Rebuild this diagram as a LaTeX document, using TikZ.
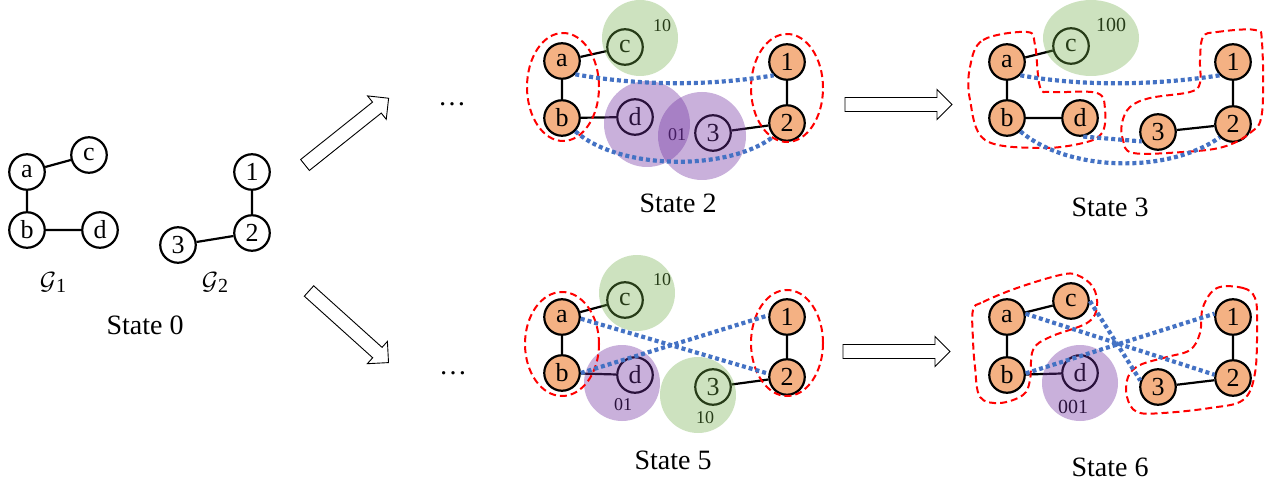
\documentclass[tikz,border=0pt]{standalone}
\usepackage{fontspec}
\setmainfont{Liberation Serif}
\definecolor{nodeorange}{HTML}{F4B183}
\definecolor{blobgreen}{HTML}{70AD47}
\definecolor{blobpurple}{HTML}{7030A0}
\definecolor{linkblue}{HTML}{4472C4}
\newcommand{\graphname}[1]{$\mathcal{G}$\raisebox{-3pt}{\fontsize{20}{20}\selectfont #1}}
\tikzset{
  vtx/.style={circle,draw,line width=2.2pt,minimum size=35.5pt,inner sep=0pt,
    font=\fontsize{26}{26}\selectfont},
  hit/.style={vtx,fill=nodeorange},
  tie/.style={line width=2.2pt},
  grp/.style={red,line width=2pt,dash pattern=on 7pt off 4pt},
  lnk/.style={linkblue,line width=4.2pt,dash pattern=on 4pt off 3pt},
  greenblob/.style={fill=blobgreen,fill opacity=0.35},
  purpleblob/.style={fill=blobpurple,fill opacity=0.38},
  codetext/.style={font=\fontsize{18}{18}\selectfont},
  bigcode/.style={font=\fontsize{20}{20}\selectfont},
  statelabel/.style={font=\fontsize{28}{28}\selectfont},
  glabel/.style={font=\fontsize{27}{27}\selectfont},
  bigarrow/.style={draw,line width=0.9pt,fill=white},
  hollow arrow/.pic={\draw[bigarrow] (0,-7) -- (92,-7) -- (92,-15) -- (107,0)
    -- (92,15) -- (92,7) -- (0,7) -- cycle;}
}
\begin{document}
\begin{tikzpicture}[x=1pt,y=-1pt]
\useasboundingbox (0,0) rectangle (1271,486);

% ---------- State 0: the two input graphs ----------
\begin{scope}[every node/.append style={minimum size=36.5pt}]
\node[vtx] (a0) at (27,172) {a};
\node[vtx] (c0) at (89,155) {c};
\node[vtx] (b0) at (27,230) {b};
\node[vtx] (d0) at (100,230) {d};
\node[vtx] (one0) at (252,172) {1};
\node[vtx] (two0) at (252,233) {2};
\node[vtx] (three0) at (178,245) {3};
\end{scope}
\draw[tie] (a0) -- (c0) (a0) -- (b0) (b0) -- (d0) (one0) -- (two0) (two0) -- (three0);
\node[glabel] (g1) at (53,282) {\graphname{1}};
\node[glabel] (g2) at (215,282) {\graphname{2}};
\node[statelabel] (s0) at (145,325) {State 0};

% ---------- transitions ----------
\pic[rotate=38.6] at (305,165) {hollow arrow};
\pic[rotate=-42] at (309,291) {hollow arrow};
\node[statelabel,anchor=base] (dots1) at (452,106) {…};
\node[statelabel,anchor=base] (dots2) at (453,374) {…};
\pic at (845,104.5) {hollow arrow};
\pic at (843,351.5) {hollow arrow};

% ---------- State 2 ----------
\node[hit] (a2) at (562,61) {a};
\node[hit] (b2) at (562,118) {b};
\node[vtx] (c2) at (625,47) {c};
\node[vtx] (d2) at (635,117) {d};
\node[vtx] (three2) at (713,133) {3};
\node[hit] (one2) at (787,62) {1};
\node[hit] (two2) at (787,123) {2};
\draw[tie] (a2) -- (c2) (a2) -- (b2) (b2) -- (d2) (one2) -- (two2) (two2) -- (three2);
\node[codetext] (k2c) at (662,26) {10};
\node[codetext] (k2d) at (677,135) {01};
\fill[greenblob] (640,38) circle [radius=38pt];
\fill[purpleblob] (647,124) circle [radius=43pt];
\fill[purpleblob] (702,136) circle [radius=44pt];
\draw[grp] (563,87) ellipse [x radius=36pt, y radius=54pt];
\draw[grp] (787,88) ellipse [x radius=36pt, y radius=54pt];
\draw[lnk] (a2.-45) .. controls (640,86) and (710,86) .. (one2.-135);
\draw[lnk] (b2.-45) .. controls (620,171) and (730,171) .. (two2.-135);
\node[statelabel] (s2) at (678,203) {State 2};

% ---------- State 3 ----------
\node[hit] (a3) at (1007,62) {a};
\node[hit] (b3) at (1007,118) {b};
\node[vtx] (c3) at (1071,46) {c};
\node[hit] (d3) at (1080,118) {d};
\node[hit] (three3) at (1158,132) {3};
\node[hit] (one3) at (1233,62) {1};
\node[hit] (two3) at (1233,124) {2};
\draw[tie] (a3) -- (c3) (a3) -- (b3) (b3) -- (d3) (one3) -- (two3) (two3) -- (three3);
\node[bigcode] (k3c) at (1111,25) {100};
\fill[greenblob] (1091,38) ellipse [x radius=48pt, y radius=38pt];
\draw[grp] plot[smooth cycle, tension=0.6] coordinates {(970,67) (983,40) (1027,32) (1035,45)
  (1040,87) (1052,92) (1097,93) (1105,110) (1102,133) (1083,143) (1040,148) (985,140) (970,100)};
\draw[grp] plot[smooth cycle, tension=0.6] coordinates {(1203,37) (1217,32) (1255,30) (1262,43)
  (1262,113) (1250,133) (1223,147) (1183,152) (1133,153) (1123,140) (1122,123) (1130,107)
  (1150,98) (1190,92) (1200,83) (1200,60)};
\draw[lnk] (a3.-45) .. controls (1080,86) and (1150,86) .. (one3.-135);
\draw[lnk] (b3.-45) .. controls (1070,173) and (1170,173) .. (two3.-135);
\draw[lnk] (d3.-80) -- (three3.-150);
\node[statelabel] (s3) at (1110,207) {State 3};

% ---------- State 5 ----------
\node[hit] (a5) at (562,317) {a};
\node[hit] (b5) at (562,373) {b};
\node[vtx] (c5) at (625,300) {c};
\node[vtx] (d5) at (635,375) {d};
\node[vtx] (three5) at (713,387) {3};
\node[hit] (one5) at (787,317) {1};
\node[hit] (two5) at (787,377) {2};
\draw[tie] (a5) -- (c5) (a5) -- (b5) (b5) -- (d5) (one5) -- (two5) (two5) -- (three5);
\node[codetext] (k5c) at (662,280) {10};
\node[codetext] (k5d) at (623,405) {01};
\node[codetext] (k53) at (705,418) {10};
\fill[greenblob] (637,293) circle [radius=38pt];
\fill[purpleblob] (622,383) circle [radius=38pt];
\fill[greenblob] (698,395) circle [radius=38pt];
\draw[grp] (562,344) ellipse [x radius=37pt, y radius=52pt];
\draw[grp] (787,343) ellipse [x radius=36pt, y radius=53pt];
\draw[lnk] (a5.-5) -- (two5.170);
\draw[lnk] (b5.east) -- (one5.175);
\node[statelabel] (s5) at (673,460) {State 5};

% ---------- State 6 ----------
\node[hit] (a6) at (1007,317) {a};
\node[hit] (c6) at (1071,301) {c};
\node[hit] (b6) at (1007,375) {b};
\node[vtx] (d6) at (1080,373) {d};
\node[hit] (three6) at (1158,387) {3};
\node[hit] (one6) at (1233,317) {1};
\node[hit] (two6) at (1233,378) {2};
\draw[tie] (a6) -- (c6) (a6) -- (b6) (b6) -- (d6) (one6) -- (two6) (two6) -- (three6);
\node[bigcode] (k6d) at (1073,407) {001};
\fill[purpleblob] (1080,383) circle [radius=38pt];
\draw[grp] plot[smooth cycle, tension=0.6] coordinates {(973,310) (983,302) (1017,288) (1060,275)
  (1077,275) (1093,287) (1097,307) (1087,323) (1050,337) (1033,350) (1030,380) (1023,395)
  (1000,403) (980,397) (975,367) (973,340)};
\draw[grp] plot[smooth cycle, tension=0.6] coordinates {(1217,288) (1243,288) (1255,298) (1257,323)
  (1255,373) (1243,400) (1210,408) (1163,413) (1137,412) (1127,397) (1128,377) (1140,365)
  (1167,357) (1190,350) (1200,333) (1203,307)};
\draw[lnk] (a6.10) -- (two6.170);
\draw[lnk] (b6.5) -- (one6.170);
\draw[lnk] (c6.0) -- (three6.160);
\node[statelabel] (s6) at (1110,467) {State 6};
\end{tikzpicture}
\end{document}
